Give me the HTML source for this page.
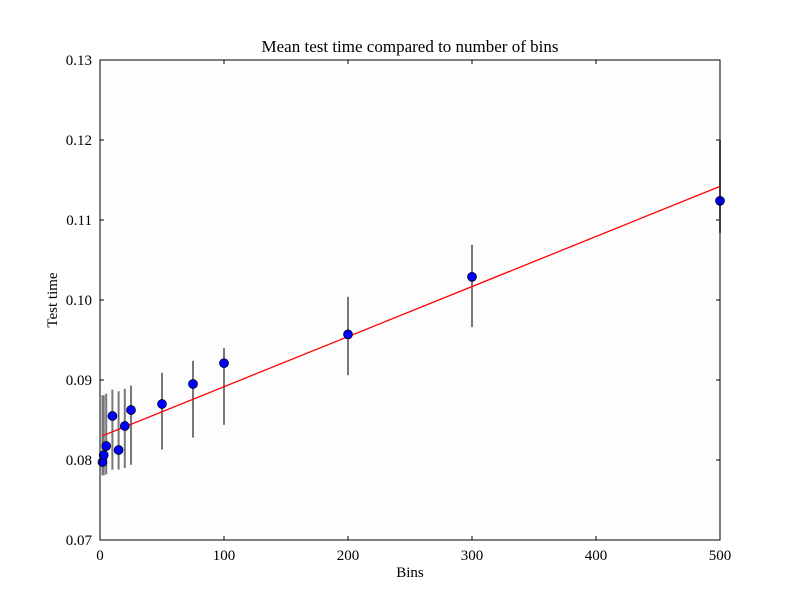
<!DOCTYPE html>
<html><head><meta charset="utf-8"><style>
body{margin:0;background:#fff;}
svg text{font-family:"Liberation Serif",serif;fill:#000;}
</style></head><body>
<svg id="chart" width="800" height="600" xmlns="http://www.w3.org/2000/svg">
<rect x="0" y="0" width="800" height="600" fill="#fff"/>
<rect x="100" y="60" width="620" height="480" fill="#fdfdfd"/>
<g id="grid"></g>
<g id="marks"></g>
<rect x="100" y="60" width="620" height="480" fill="none" stroke="#000" stroke-width="1"/>
<text x="410" y="52" font-size="17" text-anchor="middle">Mean test time compared to number of bins</text>
<text x="410" y="577" font-size="15" text-anchor="middle">Bins</text>
<text x="57" y="300" font-size="15" text-anchor="middle" transform="rotate(-90 57 300)">Test time</text>
</svg>
<script>
const bins=[2,3,5,10,15,20,25,50,75,100,200,300,500];
const meanTime=[0.07975,0.0806,0.08175,0.0855,0.08125,0.08425,0.08625,0.0870,0.0895,0.0921,0.0957,0.1029,0.1124];
const errLow=[0.0781,0.0781,0.0782,0.0788,0.0788,0.0790,0.0794,0.0813,0.0828,0.0844,0.0906,0.0966,0.1084];
const errHigh=[0.0881,0.0881,0.0883,0.0888,0.0886,0.0889,0.0893,0.0909,0.0924,0.0940,0.1004,0.1069,0.1200];
const fitIntercept=0.0829;
const fitSlope=(0.1142-0.0829)/500;
const xTicks=[0,100,200,300,400,500];
const yTicks=[0.07,0.08,0.09,0.10,0.11,0.12,0.13];
const xTickLabels=["0","100","200","300","400","500"];
const yTickLabels=["0.07","0.08","0.09","0.10","0.11","0.12","0.13"];
const NS="http://www.w3.org/2000/svg";
const X0=100,X1=720,Y0=540,Y1=60;
function sx(v){return X0+(v-0)/(500-0)*(X1-X0);}
function sy(v){return Y0-(v-0.07)/(0.13-0.07)*(Y0-Y1);}
function mk(tag,attrs,parent){const e=document.createElementNS(NS,tag);for(const k in attrs)e.setAttribute(k,attrs[k]);parent.appendChild(e);return e;}
const g=document.getElementById('grid');
xTicks.forEach((t,i)=>{
  const x=sx(t);
  const a=mk('line',{x1:x,x2:x,y1:Y0,y2:Y0-4,stroke:'#000'},g);
  
  
  const b=mk('line',{x1:x,x2:x,y1:Y1,y2:Y1+4,stroke:'#000'},g);
  
  
  const tx=mk('text',{x:x,y:Y0+20,'font-size':15,'text-anchor':'middle'},g);
  tx.textContent=xTickLabels[i];
  
  
});
yTicks.forEach((t,i)=>{
  const y=sy(t);
  const a=mk('line',{x1:X0,x2:X0+4,y1:y,y2:y,stroke:'#000'},g);
  
  
  const b=mk('line',{x1:X1,x2:X1-4,y1:y,y2:y,stroke:'#000'},g);
  
  
  const tx=mk('text',{x:X0-8,y:y+5,'font-size':15,'text-anchor':'end'},g);
  tx.textContent=yTickLabels[i];
  
  
});
const m=document.getElementById('marks');
bins.forEach((b,i)=>{
  const e=mk('line',{x1:sx(b),x2:sx(b),y1:sy(errLow[i]),y2:sy(errHigh[i]),stroke:'#777','stroke-width':2},m);
  
  
});
const fit=mk('line',{x1:sx(bins[0]),y1:sy(fitIntercept+fitSlope*bins[0]),x2:sx(500),y2:sy(fitIntercept+fitSlope*500),stroke:'#f00','stroke-width':1.3},m);


bins.forEach((b,i)=>{
  const c=mk('circle',{cx:sx(b),cy:sy(meanTime[i]),r:4.5,fill:'#0000ff',stroke:'#000','stroke-width':0.7},m);
  
  
});
</script>
</body></html>
